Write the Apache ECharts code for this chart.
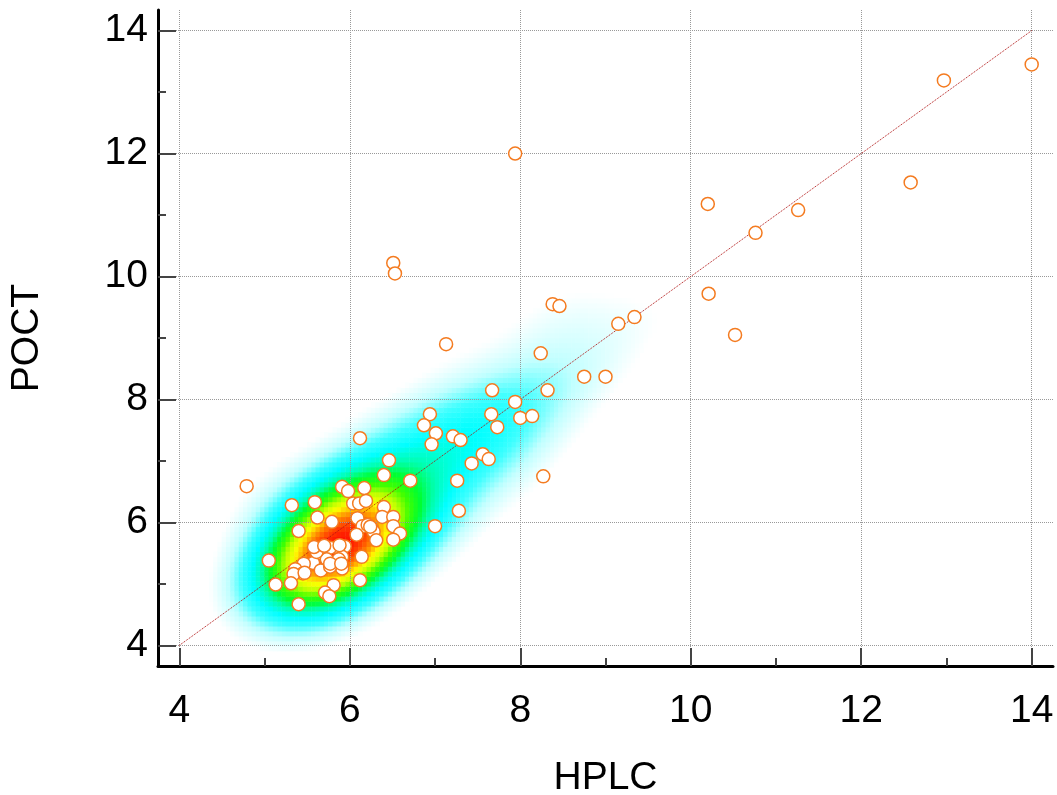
<!DOCTYPE html>
<html>
<head>
<meta charset="utf-8">
<script src="https://cdn.jsdelivr.net/npm/echarts@6/dist/echarts.min.js"></script>
<style>
  html, body { margin: 0; padding: 0; background: #fff; }
  #chart { width: 1057px; height: 795px; }
</style>
</head>
<body>
<div id="chart"></div>
<script>
const hplc = [
  14.00, 12.97, 12.58, 11.26, 10.20, 10.21, 10.76, 10.52, 7.94, 6.51, 6.53,
  8.38, 8.46, 9.15, 9.34, 7.13, 8.24, 8.75, 9.00, 8.32, 7.67, 7.94, 8.00,
  8.14, 7.66, 7.73, 8.27, 7.28, 7.00, 4.79, 6.12,
  6.94, 6.87, 7.01, 6.96, 7.21, 7.30, 7.56, 7.63, 7.43, 7.26, 6.71, 6.46, 6.40,
  5.91, 5.98, 6.17, 6.04, 6.11, 6.19, 6.40, 6.09, 6.38, 6.51, 5.79, 6.15,
  6.21, 6.26, 6.51, 6.59, 6.08, 6.28, 6.31, 6.51, 5.94, 5.85, 6.14, 5.91,
  5.91, 6.12, 5.81, 5.32, 5.59, 5.62, 5.40, 5.05, 5.59, 5.65, 5.77, 5.73,
  5.57, 5.87, 5.46, 5.36, 5.45, 5.34, 5.66, 5.77, 5.13, 5.31, 5.71, 5.76, 5.40,
  6.24, 5.77, 5.88, 5.61, 5.58, 5.47, 5.90, 5.70
];
const poct = [
  13.45, 13.19, 11.53, 11.08, 11.18, 9.72, 10.71, 9.05, 12.00, 10.22, 10.05,
  9.55, 9.52, 9.23, 9.34, 8.90, 8.75, 8.37, 8.37, 8.15, 8.15, 7.96, 7.70,
  7.73, 7.76, 7.55, 6.75, 6.19, 5.94, 6.59, 7.37,
  7.76, 7.58, 7.45, 7.27, 7.40, 7.34, 7.11, 7.03, 6.96, 6.68, 6.68, 7.01, 6.77,
  6.58, 6.51, 6.56, 6.31, 6.31, 6.35, 6.25, 6.07, 6.09, 6.09, 6.01, 5.94,
  5.96, 5.90, 5.94, 5.82, 5.80, 5.85, 5.71, 5.72, 5.61, 5.60, 5.44, 5.44,
  5.25, 5.06, 4.98, 6.28, 6.33, 6.08, 5.86, 5.38, 5.58, 5.50, 5.59, 5.40,
  5.34, 5.40, 5.33, 5.24, 5.17, 5.16, 5.22, 5.28, 4.99, 5.01, 4.86, 4.80, 4.67,
  5.93, 5.33, 5.63, 5.52, 5.60, 5.18, 5.33, 5.62
];

const majorTicks = [4, 6, 8, 10, 12, 14];
const minorTicks = [5, 7, 9, 11, 13];
const identityLine = [4, 14];
const xRange = [3.75, 14.25];
const yRange = [3.665, 14.335];

const FONT = '"Liberation Sans", Arial, sans-serif';

// background density: gaussian kernel estimate of the points above, on a cell grid
const nx = 210, ny = 132;
const kernel = { sx: 0.55, sy: 0.62, rho: 0.33 };
const cutoff = 0.075;

function densityCells() {
  const dx = (xRange[1] - xRange[0]) / nx;
  const dy = (yRange[1] - yRange[0]) / ny;
  const k = kernel;
  const raw = [];
  let peak = 0;
  for (let i = 0; i < nx; i++) {
    const cx = xRange[0] + (i + 0.5) * dx;
    for (let j = 0; j < ny; j++) {
      const cy = yRange[0] + (j + 0.5) * dy;
      let s = 0;
      for (let p = 0; p < hplc.length; p++) {
        const u = (cx - hplc[p]) / k.sx;
        const v = (cy - poct[p]) / k.sy;
        const q = (u * u - 2 * k.rho * u * v + v * v) / (1 - k.rho * k.rho);
        if (q < 30) s += Math.exp(-0.5 * q);
      }
      if (s > peak) peak = s;
      raw.push([i, j, s]);
    }
  }
  return raw
    .map((c) => [c[0], c[1], c[2] / peak])
    .filter((c) => c[2] >= cutoff);
}

const xBins = Array.from({ length: nx }, (_, i) => i);
const yBins = Array.from({ length: ny }, (_, j) => j);

const chart = echarts.init(document.getElementById('chart'));

const gridBox = {
  left: 158, right: 4, top: 10, bottom: 129,
  containLabel: false, outerBoundsMode: 'none',
};
const labelStyle = { fontSize: 39, color: '#000', fontFamily: FONT };
const tickStyle = { color: '#444', width: 2 };
const gridLine = { show: true, lineStyle: { type: 'dotted', color: '#999', width: 1 } };

chart.setOption({
  animation: false,
  backgroundColor: '#fff',
  grid: [gridBox, gridBox, gridBox],
  visualMap: {
    show: false,
    seriesIndex: 0,
    min: cutoff,
    max: 1,
    inRange: {
      color: ['#ffffff', '#c0ffff', '#40ffff', '#00ffff', '#00ffb0', '#00ff30',
        '#40ff00', '#c0ff00', '#ffff00', '#ffa000', '#ff5000', '#ff1000'],
    },
  },
  xAxis: [
    {
      gridIndex: 0,
      type: 'value',
      min: xRange[0],
      max: xRange[1],
      z: 3,
      axisLine: { show: true, onZero: false, lineStyle: { color: '#000', width: 3 } },
      axisTick: { show: true, inside: true, length: 18, customValues: majorTicks, lineStyle: tickStyle },
      axisLabel: { customValues: majorTicks, margin: 26, ...labelStyle },
      splitLine: gridLine,
      name: 'HPLC',
      nameLocation: 'middle',
      nameGap: 93,
      nameTextStyle: labelStyle,
    },
    { gridIndex: 1, type: 'category', data: xBins, show: false },
    {
      gridIndex: 2,
      type: 'value',
      min: xRange[0],
      max: xRange[1],
      z: 3,
      axisLine: { show: false },
      axisTick: { show: true, inside: true, length: 8, customValues: minorTicks, lineStyle: tickStyle },
      axisLabel: { show: false },
      splitLine: { show: false },
    },
  ],
  yAxis: [
    {
      gridIndex: 0,
      type: 'value',
      min: yRange[0],
      max: yRange[1],
      z: 3,
      axisLine: { show: true, onZero: false, lineStyle: { color: '#000', width: 3 } },
      axisTick: { show: true, inside: true, length: 18, customValues: majorTicks, lineStyle: tickStyle },
      axisLabel: { customValues: majorTicks, margin: 10, ...labelStyle },
      splitLine: gridLine,
      name: 'POCT',
      nameLocation: 'middle',
      nameGap: 111,
      nameTextStyle: labelStyle,
    },
    { gridIndex: 1, type: 'category', data: yBins, show: false },
    {
      gridIndex: 2,
      type: 'value',
      min: yRange[0],
      max: yRange[1],
      z: 3,
      axisLine: { show: false },
      axisTick: { show: true, inside: true, length: 8, customValues: minorTicks, lineStyle: tickStyle },
      axisLabel: { show: false },
      splitLine: { show: false },
    },
  ],
  series: [
    {
      type: 'heatmap',
      xAxisIndex: 1,
      yAxisIndex: 1,
      data: densityCells(),
      progressive: 0,
      z: 1,
      emphasis: { disabled: true },
    },
    {
      type: 'line',
      xAxisIndex: 0,
      yAxisIndex: 0,
      data: identityLine.map((v) => [v, v]),
      symbol: 'none',
      z: 4,
      lineStyle: { type: 'dotted', color: '#b01010', width: 1 },
    },
    {
      type: 'scatter',
      xAxisIndex: 0,
      yAxisIndex: 0,
      data: hplc.map((x, i) => [x, poct[i]]),
      symbol: 'circle',
      symbolSize: 13,
      z: 5,
      itemStyle: { color: '#fff', borderColor: '#f47b20', borderWidth: 1.5, opacity: 1 },
    },
  ],
});
</script>
</body>
</html>
